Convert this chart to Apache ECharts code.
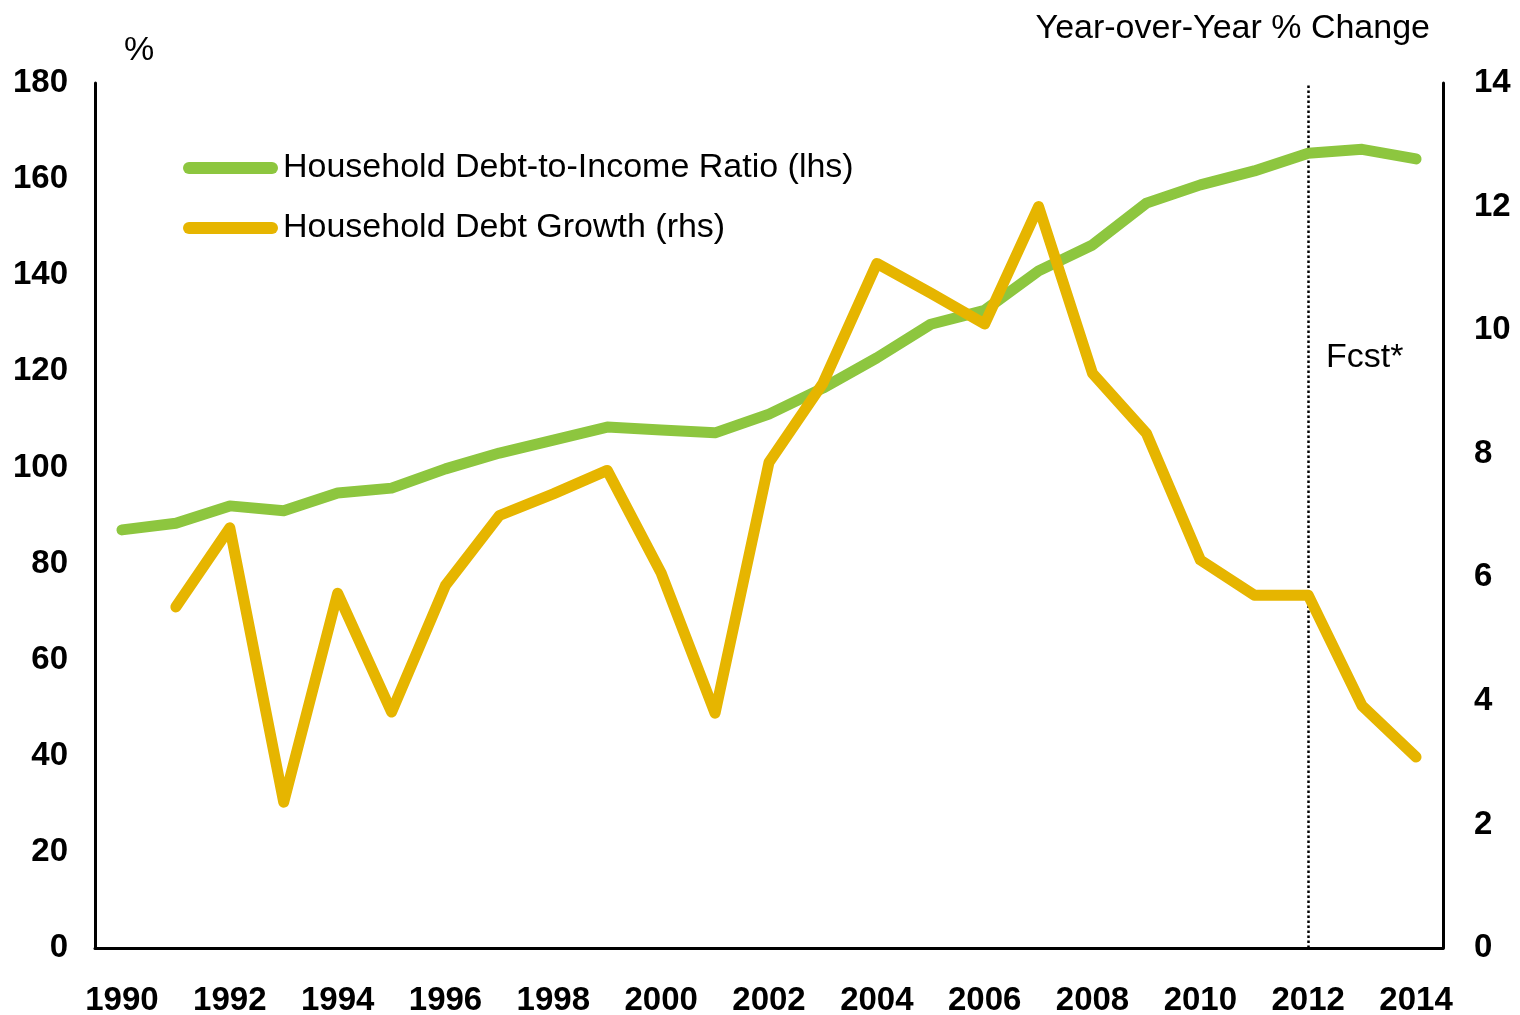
<!DOCTYPE html>
<html>
<head>
<meta charset="utf-8">
<script src="https://cdn.jsdelivr.net/npm/echarts@6/dist/echarts.min.js"></script>
<style>
  html, body { margin: 0; padding: 0; background: #fff; }
  #chart { width: 1520px; height: 1015px; }
</style>
</head>
<body>
<div id="chart"></div>
<script>
  // years on the x axis
  var years = ['1990','1991','1992','1993','1994','1995','1996','1997','1998','1999','2000','2001','2002',
               '2003','2004','2005','2006','2007','2008','2009','2010','2011','2012','2013','2014'];
  // debt-to-income ratio, % (lhs)
  var debtToIncome = [87, 88.4, 92, 91, 94.7, 95.7, 99.7, 103, 105.7, 108.4, 107.8, 107.2, 111.1,
                      116.5, 122.8, 129.8, 132.7, 140.9, 146.3, 155, 158.8, 161.7, 165.4, 166.2, 164.2];
  // debt growth, y/y % (rhs)
  var debtGrowth = ['-', 5.52, 6.8, 2.36, 5.74, 3.82, 5.87, 7.0, 7.35, 7.73, 6.07, 3.8, 7.86,
                    9.14, 11.08, 10.6, 10.1, 12.0, 9.3, 8.33, 6.28, 5.71, 5.71, 3.92, 3.09];
  var forecastYear = '2012';

  var green = '#8DC63F';
  var gold = '#E6B500';
  var font = 'Liberation Sans, Arial, sans-serif';

  var chart = echarts.init(document.getElementById('chart'));
  var option = {
    animation: false,
    backgroundColor: '#fff',
    textStyle: { fontFamily: font },
    grid: { left: 95, right: 77, top: 83, bottom: 67, containLabel: false, outerBoundsMode: 'none' },
    legend: {
      orient: 'vertical',
      left: 183,
      top: 147,
      padding: 0,
      itemGap: 18,
      itemWidth: 95,
      itemHeight: 12,
      icon: 'path://M6,0 H89 A6,6 0 0 1 89,12 H6 A6,6 0 0 1 6,0 Z',
      textStyle: { fontFamily: font, fontSize: 34, color: '#000', lineHeight: 34, padding: [8, 0, 0, 0] },
      data: ['Household Debt-to-Income Ratio (lhs)', 'Household Debt Growth (rhs)']
    },
    xAxis: {
      type: 'category',
      data: years,
      boundaryGap: true,
      axisLine: { lineStyle: { color: '#000', width: 3 } },
      axisTick: { show: false },
      axisLabel: {
        interval: 1,
        margin: 36,
        color: '#000',
        fontFamily: font,
        fontSize: 33,
        fontWeight: 'bold'
      },
      splitLine: { show: false }
    },
    yAxis: [
      {
        type: 'value',
        min: 0, max: 180, interval: 20,
        position: 'left',
        axisLine: { show: true, lineStyle: { color: '#000', width: 3 } },
        axisTick: { show: false },
        axisLabel: { margin: 27, color: '#000', fontFamily: font, fontSize: 33, fontWeight: 'bold' },
        splitLine: { show: false }
      },
      {
        type: 'value',
        min: 0, max: 14, interval: 2,
        position: 'right',
        axisLine: { show: true, lineStyle: { color: '#000', width: 3 } },
        axisTick: { show: false },
        axisLabel: { margin: 31, color: '#000', fontFamily: font, fontSize: 33, fontWeight: 'bold' },
        splitLine: { show: false }
      }
    ],
    series: [
      {
        name: 'Household Debt-to-Income Ratio (lhs)',
        type: 'line',
        yAxisIndex: 0,
        data: debtToIncome,
        symbol: 'none',
        color: green,
        lineStyle: { color: green, width: 11, cap: 'round', join: 'round' },
        z: 2
      },
      {
        name: 'Household Debt Growth (rhs)',
        type: 'line',
        yAxisIndex: 1,
        data: debtGrowth,
        symbol: 'none',
        color: gold,
        lineStyle: { color: gold, width: 11, cap: 'round', join: 'round' },
        z: 3,
        markLine: {
          silent: true,
          symbol: 'none',
          label: { show: false },
          lineStyle: { color: '#000', type: 'dotted', width: 2.5 },
          data: [{ xAxis: forecastYear }],
          z: 1
        }
      }
    ],
    graphic: [
      {
        type: 'text', left: 124, top: 34,
        style: { text: '%', font: '34px ' + font, fill: '#000' }
      },
      {
        type: 'text', right: 90, top: 12,
        style: { text: 'Year-over-Year % Change', font: '34px ' + font, fill: '#000' }
      },
      {
        type: 'text', left: 1326, top: 341,
        style: { text: 'Fcst*', font: '34px ' + font, fill: '#000' }
      }
    ]
  };
  chart.setOption(option);
</script>
</body>
</html>
